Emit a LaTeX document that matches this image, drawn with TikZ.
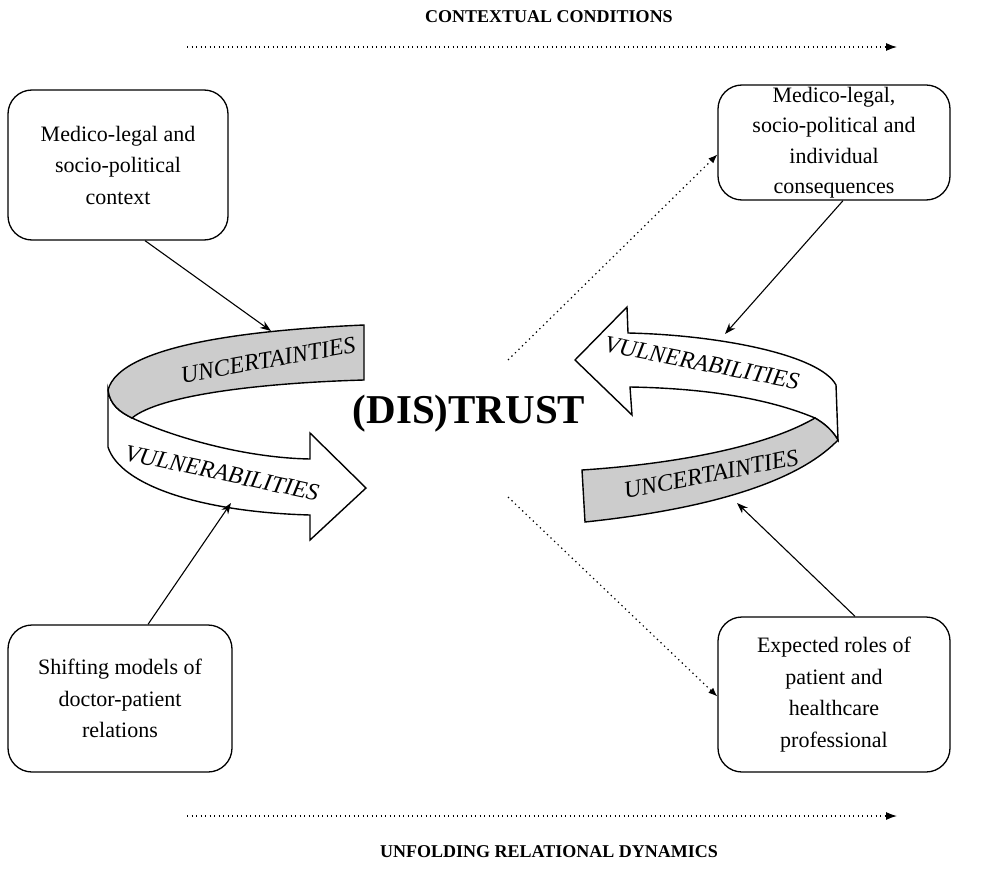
\documentclass[tikz,border=0pt]{standalone}
\usepackage{fontspec}
\setmainfont{Liberation Serif}
\usetikzlibrary{arrows.meta}
\definecolor{ribgrey}{RGB}{204,204,204}
\begin{document}
\begin{tikzpicture}[x=1pt,y=-1pt,
  box/.style={draw,line width=1.3pt,rounded corners=24pt,align=center,inner sep=0pt,font=\fontsize{22}{31.5}\selectfont},
  conn/.style={line width=1.1pt,-{Stealth[length=11pt,width=8pt]}},
  dotline/.style={line width=1.2pt,dash pattern=on 1.3pt off 3.2pt,-{Latex[length=11pt,width=8pt]}},
  dotdiag/.style={line width=1.2pt,dash pattern=on 1.3pt off 3.6pt,-{Latex[length=9pt,width=7pt]}},
  ribbon/.style={draw,line width=1.4pt,line join=miter},
  ribtext/.style={font=\fontsize{24}{24}\selectfont\itshape,inner sep=0pt},
  titletext/.style={font=\fontsize{18}{18}\selectfont\bfseries}]
\path[use as bounding box] (0,0) rectangle (992,885);

% titles and timeline arrows
\node[titletext] (ctx) at (549,17) {CONTEXTUAL CONDITIONS};
\node[titletext] (urd) at (549,852) {UNFOLDING RELATIONAL DYNAMICS};
\coordinate (c1) at (187,47);
\coordinate (c2) at (897,47);
\coordinate (u1s) at (187,816);
\coordinate (u1e) at (897,816);
\draw[dotline] (c1) -- (c2);
\draw[dotline] (u1s) -- (u1e);

% boxes
\node[box,minimum width=220pt,minimum height=150pt] (tl) at (118,165) {Medico-legal and\\socio-political\\context};
\node[box,minimum width=232pt,minimum height=115pt,font=\fontsize{22}{30.5}\selectfont] (tr) at (834,142.5) {Medico-legal,\\socio-political and\\individual\\consequences};
\node[box,minimum width=224pt,minimum height=147pt] (bl) at (120,698.5) {Shifting models of\\doctor-patient\\relations};
\node[box,minimum width=232pt,minimum height=155pt] (br) at (834,694.5) {Expected roles of\\patient and\\healthcare\\professional};

% left ribbon
\draw[ribbon,fill=white] (108,390) -- (108,447) .. controls (120,485) and (200,512) .. (310,515)
  -- (310,540) -- (366,488) -- (310,433) -- (310,459)
  .. controls (250,458) and (180,440) .. (132,418)
  .. controls (120,412) and (110,405) .. (108,390) -- cycle;
\draw[ribbon,fill=ribgrey] (364,325) .. controls (250,330) and (120,345) .. (108,390)
  .. controls (110,405) and (120,412) .. (132,418)
  .. controls (160,395) and (260,383) .. (364,380) -- cycle;
\node[ribtext,rotate=10] (ul) at (268,360) {UNCERTAINTIES};
\node[ribtext,rotate=-12] (vl) at (222,473) {VULNERABILITIES};

% right ribbon
\draw[ribbon,fill=white] (575,360) -- (627,307) -- (628,333)
  .. controls (720,335) and (820,355) .. (836,385) -- (838,440)
  .. controls (832,430) and (825,424) .. (815,418)
  .. controls (760,395) and (690,388) .. (630,387) -- (632,415) -- cycle;
\draw[ribbon,fill=ribgrey] (815,418) .. controls (825,424) and (832,430) .. (838,440)
  .. controls (790,490) and (680,512) .. (585,522) -- (582,470)
  .. controls (660,465) and (760,450) .. (815,418) -- cycle;
\node[ribtext,rotate=-11] (vr) at (702,363) {VULNERABILITIES};
\node[ribtext,rotate=11] (ur) at (711,474) {UNCERTAINTIES};

% centre
\node[font=\fontsize{41}{41}\selectfont\bfseries] (trust) at (469,414) {(DIS)TRUST};

% solid connectors
\coordinate (ta) at (271,331);
\coordinate (ba) at (231,503);
\coordinate (tra) at (725,334);
\coordinate (bra) at (737,503);
\draw[conn] ([xshift=27pt]tl.south) -- (ta);
\draw[conn] ([xshift=28pt]bl.north) -- (ba);
\draw[conn] ([xshift=9pt]tr.south) -- (tra);
\draw[conn] ([xshift=21pt]br.north) -- (bra);

% dotted diagonal connectors
\coordinate (d1) at (508,360);
\coordinate (d2) at (508,497);
\draw[dotdiag] (d1) -- ([yshift=-12pt]tr.west);
\draw[dotdiag] (d2) -- ([yshift=-2pt]br.west);
\end{tikzpicture}
\end{document}
